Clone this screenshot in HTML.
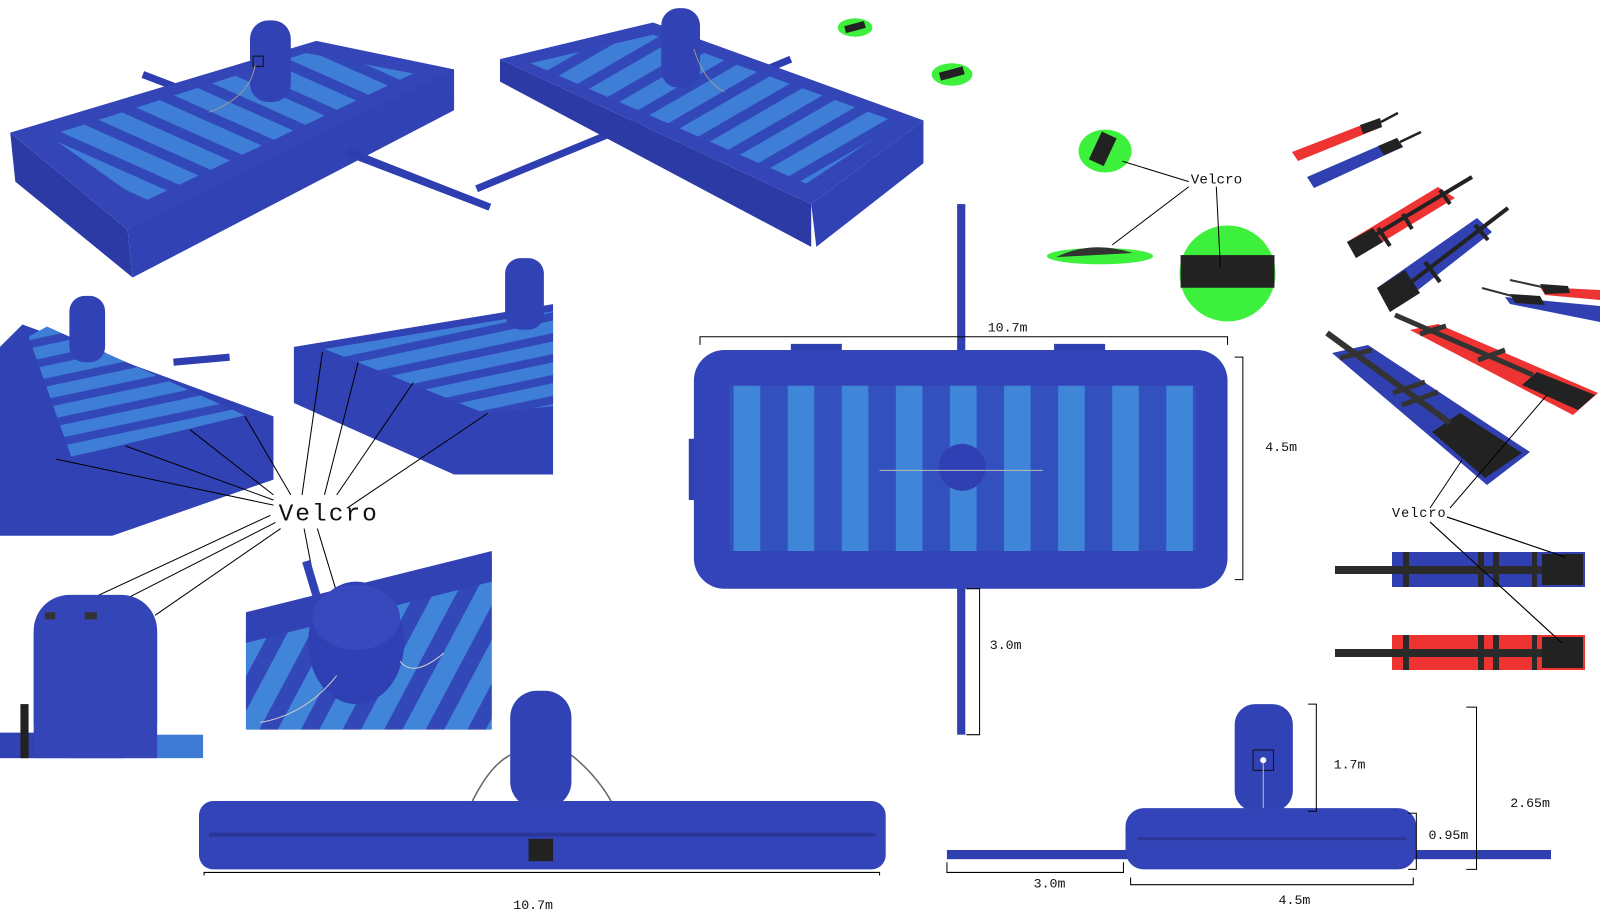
<!DOCTYPE html>
<html><head><meta charset="utf-8"><style>
html,body{margin:0;padding:0;background:#fff;}
svg{display:block;}
text{font-family:"Liberation Mono","DejaVu Sans Mono",monospace;fill:#111;}
</style></head><body>
<svg width="1600" height="922" viewBox="0 0 1600 922" xmlns="http://www.w3.org/2000/svg">
<defs>
<pattern id="st1" width="26" height="26" patternUnits="userSpaceOnUse" patternTransform="rotate(24)">
<rect width="26" height="26" fill="#3348b8"/><rect width="26" height="16" fill="#3f7ed6"/></pattern>
<pattern id="st2" width="26" height="26" patternUnits="userSpaceOnUse" patternTransform="rotate(-30)">
<rect width="26" height="26" fill="#3348b8"/><rect width="26" height="16" fill="#3f7ed6"/></pattern>
<pattern id="st3" width="20" height="20" patternUnits="userSpaceOnUse" patternTransform="rotate(-12)">
<rect width="20" height="20" fill="#3348b8"/><rect width="20" height="12" fill="#3f7ed6"/></pattern>
<pattern id="st4" width="36" height="36" patternUnits="userSpaceOnUse" patternTransform="rotate(-62)">
<rect width="36" height="36" fill="#3348b8"/><rect width="36" height="20" fill="#4185d8"/></pattern>
<pattern id="st5" width="53" height="10" patternUnits="userSpaceOnUse" x="715">
<rect width="53" height="10" fill="#3350bf"/><rect x="4" width="26" height="10" fill="#3f86d8"/></pattern>
</defs>

<g transform="scale(1.0204)">
<!-- TOP LEFT MAT -->
<line x1="140" y1="73" x2="480" y2="203" stroke="#2e3db0" stroke-width="7"/>
<polygon points="10,130 125,225 130,272 15,178" fill="#2c3aa6"/>
<polygon points="125,225 425,68 445,68 445,108 130,272" fill="#3142b4"/>
<polygon points="10,130 310,40 445,68 125,225" fill="#3445b8"/>
<polygon points="48,133 300,52 405,72 140,198" fill="url(#st1)"/>
<line x1="340" y1="148" x2="480" y2="203" stroke="#2e3db0" stroke-width="7"/>
<rect x="245" y="20" width="40" height="80" rx="18" fill="#3142b4"/>
<rect x="248" y="55" width="10" height="10" fill="none" stroke="#111"/>
<path d="M250 64 Q245 95 205 110" stroke="#999" fill="none"/>

<!-- TOP MIDDLE MAT -->
<line x1="467" y1="185" x2="775" y2="58" stroke="#2e3db0" stroke-width="7"/>
<polygon points="490,58 795,200 795,242 490,80" fill="#2c3aa6"/>
<polygon points="795,200 905,118 905,160 800,242" fill="#3142b4"/>
<polygon points="490,58 640,22 905,118 795,200" fill="#3445b8"/>
<polygon points="520,62 640,34 880,120 790,180" fill="url(#st2)"/>
<rect x="648" y="8" width="38" height="78" rx="17" fill="#3142b4"/>
<path d="M680 48 Q690 80 710 90" stroke="#999" fill="none"/>

<!-- GREEN discs -->
<ellipse cx="838" cy="27" rx="17" ry="9" fill="#3cf03c"/><rect x="828" y="23" width="20" height="7" fill="#222" transform="rotate(-15 838 27)"/>
<ellipse cx="933" cy="73" rx="20" ry="11" fill="#3cf03c"/><rect x="921" y="68" width="24" height="8" fill="#222" transform="rotate(-15 933 73)"/>
<ellipse cx="1083" cy="148" rx="26" ry="21" fill="#3cf03c"/><rect x="1072" y="132" width="16" height="30" fill="#222" transform="rotate(25 1083 148)"/>
<ellipse cx="1078" cy="251" rx="52" ry="8" fill="#3cf03c"/><path d="M1035 252 Q1070 235 1110 248 Z" fill="#333"/>
<circle cx="1203" cy="268" r="47" fill="#3cf03c"/><rect x="1157" y="250" width="92" height="32" fill="#222"/>
<text x="1167" y="180" font-size="14">Velcro</text>
<polyline points="1100,158 1165,178" stroke="#000" fill="none"/>
<line x1="1165" y1="183" x2="1090" y2="240" stroke="#000"/>
<line x1="1192" y1="183" x2="1196" y2="262" stroke="#000"/>

<!-- MID LEFT CROP -->
<line x1="0" y1="420" x2="20" y2="410" stroke="#2e3db0" stroke-width="7"/>
<line x1="170" y1="355" x2="225" y2="350" stroke="#2e3db0" stroke-width="7"/>
<polygon points="0,340 22,318 268,408 268,470 110,525 0,525" fill="#3142b4"/>
<polygon points="28,330 46,320 240,407 70,448" fill="url(#st3)"/>
<rect x="68" y="290" width="35" height="65" rx="15" fill="#3142b4"/>
<!-- MID RIGHT CROP -->
<polygon points="288,340 542,298 542,465 445,465 288,395" fill="#3142b4"/>
<polygon points="318,342 542,305 542,398 475,405" fill="url(#st3)"/>
<rect x="495" y="253" width="38" height="70" rx="15" fill="#3142b4"/>
<text x="273" y="510" font-size="24" letter-spacing="2">Velcro</text>
<g stroke="#000" stroke-width="1">
<line x1="55" y1="450" x2="268" y2="495"/><line x1="123" y1="437" x2="268" y2="490"/><line x1="186" y1="421" x2="268" y2="485"/><line x1="240" y1="408" x2="285" y2="485"/>
<line x1="316" y1="345" x2="296" y2="485"/><line x1="351" y1="355" x2="318" y2="485"/><line x1="405" y1="375" x2="330" y2="485"/><line x1="478" y1="405" x2="340" y2="498"/>
<line x1="50" y1="605" x2="265" y2="505"/><line x1="88" y1="605" x2="270" y2="512"/><line x1="152" y1="603" x2="275" y2="518"/>
<line x1="298" y1="518" x2="320" y2="632"/><line x1="311" y1="518" x2="345" y2="630"/>
</g>
<!-- BOTTOM LEFT CROP -->
<rect x="0" y="718" width="120" height="25" fill="#3142b4"/><rect x="120" y="720" width="79" height="23" fill="#3d7bd4"/>
<rect x="33" y="583" width="121" height="160" rx="35" fill="#3445b8"/>
<rect x="33" y="620" width="121" height="123" fill="#3445b8"/>
<rect x="44" y="600" width="10" height="7" fill="#333"/><rect x="83" y="600" width="12" height="7" fill="#333"/>
<rect x="20" y="690" width="8" height="53" fill="#222"/>
<!-- MID CROP 2 -->
<polygon points="241,620 482,547 482,715 241,715" fill="url(#st4)"/>
<polygon points="241,600 482,540 482,570 241,630" fill="#3142b4"/>
<line x1="300" y1="550" x2="318" y2="610" stroke="#3142b4" stroke-width="8"/>
<ellipse cx="349" cy="630" rx="47" ry="60" fill="#2f40b4"/><ellipse cx="349" cy="605" rx="43" ry="32" fill="#3749bc"/>
<path d="M392 648 Q405 665 435 640" stroke="#ccc" fill="none"/><path d="M330 662 Q300 700 255 708" stroke="#ccc" fill="none"/>

<!-- CENTER TOP VIEW -->
<rect x="938" y="200" width="8" height="520" fill="#2f3fb0"/>
<rect x="775" y="337" width="50" height="8" fill="#2f3fb0"/><rect x="1033" y="337" width="50" height="8" fill="#2f3fb0"/>
<rect x="675" y="430" width="10" height="60" fill="#2f3fb0"/>
<rect x="680" y="343" width="523" height="234" rx="30" fill="#3244b8"/>
<rect x="715" y="378" width="457" height="162" fill="url(#st5)"/>
<circle cx="943" cy="458" r="23" fill="#2f40b4"/>
<line x1="862" y1="461" x2="1022" y2="461" stroke="#bbb"/>
<g stroke="#000" fill="none" stroke-width="1">
<polyline points="686,338 686,330 1203,330 1203,338"/>
<polyline points="1210,350 1218,350 1218,568 1210,568"/>
<polyline points="947,577 960,577 960,720 947,720"/>
</g>
<text x="968" y="325" font-size="13">10.7m</text>
<text x="1240" y="442" font-size="13">4.5m</text>
<text x="970" y="636" font-size="13">3.0m</text>

<!-- BOTTOM SIDE VIEW -->
<path d="M462 787 Q480 750 500 740 M560 740 Q585 760 600 787" stroke="#666" fill="none" stroke-width="1.5"/>
<rect x="500" y="677" width="60" height="115" rx="26" fill="#3142b4"/>
<rect x="195" y="785" width="673" height="67" rx="14" fill="#3344b8"/>
<line x1="205" y1="818" x2="858" y2="818" stroke="#2a3798" stroke-width="4"/>
<rect x="518" y="822" width="24" height="22" fill="#222"/>
<polyline points="200,858 200,855 862,855 862,858" stroke="#000" fill="none"/>
<text x="503" y="891" font-size="13">10.7m</text>

<!-- BOTTOM RIGHT SIDE VIEW -->
<rect x="928" y="833" width="592" height="9" fill="#2f3fb0"/>
<rect x="1210" y="690" width="57" height="105" rx="20" fill="#3142b4"/>
<rect x="1228" y="735" width="20" height="20" fill="none" stroke="#111"/><circle cx="1238" cy="745" r="3" fill="#fff"/>
<line x1="1238" y1="748" x2="1238" y2="792" stroke="#bbb"/>
<rect x="1103" y="792" width="285" height="60" rx="18" fill="#3344b8"/>
<line x1="1115" y1="822" x2="1378" y2="822" stroke="#2a3798" stroke-width="3"/>
<g stroke="#000" fill="none">
<polyline points="1282,690 1290,690 1290,795 1282,795"/>
<polyline points="1437,693 1447,693 1447,852 1437,852"/>
<polyline points="1380,797 1388,797 1388,852 1380,852"/>
<polyline points="928,845 928,855 1101,855 1101,845"/>
<polyline points="1108,860 1108,867 1385,867 1385,860"/>
</g>
<text x="1307" y="753" font-size="13">1.7m</text>
<text x="1480" y="791" font-size="13">2.65m</text>
<text x="1400" y="822" font-size="13">0.95m</text>
<text x="1013" y="870" font-size="13">3.0m</text>
<text x="1253" y="886" font-size="13">4.5m</text>
</g>

<!-- STRAPS (real coords) -->
<polygon points="1292,152 1380,118 1382,127 1298,161" fill="#ee3333"/><polygon points="1360,125 1380,118 1382,127 1363,134" fill="#222"/><line x1="1381" y1="122" x2="1398" y2="113" stroke="#222" stroke-width="2.5"/>
<polygon points="1307,177 1397,138 1403,147 1314,188" fill="#3040b0"/><polygon points="1378,146 1397,138 1403,147 1384,155" fill="#222"/><line x1="1400" y1="142" x2="1421" y2="132" stroke="#222" stroke-width="2.5"/>
<polygon points="1347,242 1438,187 1455,198 1356,258" fill="#ee3333"/><polygon points="1347,242 1373,228 1383,242 1356,258" fill="#222"/>
<line x1="1370" y1="238" x2="1472" y2="177" stroke="#222" stroke-width="4"/><line x1="1378" y1="228" x2="1390" y2="246" stroke="#222" stroke-width="4"/><line x1="1403" y1="214" x2="1412" y2="229" stroke="#222" stroke-width="4"/><line x1="1440" y1="190" x2="1450" y2="204" stroke="#222" stroke-width="4"/>
<polygon points="1377,288 1477,218 1492,232 1390,312" fill="#3040b0"/><polygon points="1377,288 1405,270 1420,293 1390,312" fill="#222"/>
<line x1="1410" y1="283" x2="1508" y2="208" stroke="#222" stroke-width="4"/><line x1="1425" y1="262" x2="1440" y2="282" stroke="#222" stroke-width="4"/><line x1="1475" y1="225" x2="1488" y2="240" stroke="#222" stroke-width="4"/>
<!-- far right small -->
<polygon points="1505,297 1600,306 1600,322 1510,304" fill="#3040b0"/><polygon points="1510,294 1540,296 1545,305 1515,303" fill="#222"/><line x1="1482" y1="288" x2="1512" y2="296" stroke="#333" stroke-width="2"/>
<polygon points="1540,287 1600,290 1600,300 1545,295" fill="#ee3333"/><polygon points="1540,284 1568,286 1570,293 1545,294" fill="#222"/><line x1="1510" y1="280" x2="1542" y2="287" stroke="#333" stroke-width="2"/>
<!-- big red -->
<polygon points="1410,330 1438,324 1598,393 1573,415" fill="#ee3333"/>
<polygon points="1522,385 1537,372 1595,395 1578,410" fill="#222"/>
<line x1="1395" y1="315" x2="1533" y2="375" stroke="#333" stroke-width="5"/>
<line x1="1420" y1="334" x2="1446" y2="326" stroke="#333" stroke-width="5"/>
<line x1="1478" y1="360" x2="1505" y2="350" stroke="#333" stroke-width="5"/>
<!-- big blue -->
<polygon points="1332,353 1368,345 1530,452 1487,485" fill="#3040b0"/>
<polygon points="1432,432 1460,413 1522,453 1485,478" fill="#222"/>
<line x1="1327" y1="333" x2="1450" y2="423" stroke="#333" stroke-width="6"/>
<line x1="1340" y1="358" x2="1372" y2="350" stroke="#333" stroke-width="5"/>
<line x1="1393" y1="393" x2="1425" y2="382" stroke="#333" stroke-width="5"/>
<line x1="1402" y1="405" x2="1438" y2="392" stroke="#333" stroke-width="5"/>
<!-- right Velcro -->
<text x="1392" y="517" font-size="13.5" letter-spacing="1">Velcro</text>
<g stroke="#000" stroke-width="1">
<line x1="1430" y1="508" x2="1462" y2="460"/>
<line x1="1450" y1="508" x2="1547" y2="395"/>
<line x1="1447" y1="517" x2="1565" y2="557"/>
<line x1="1430" y1="522" x2="1562" y2="643"/>
</g>
<rect x="1335" y="566" width="215" height="8" fill="#2a2a2a"/>
<rect x="1392" y="552" width="193" height="35" fill="#3040b0"/>
<rect x="1335" y="566" width="207" height="8" fill="#2a2a2a"/>
<rect x="1403" y="552" width="6" height="35" fill="#2a2a2a"/><rect x="1478" y="552" width="6" height="35" fill="#2a2a2a"/><rect x="1493" y="552" width="6" height="35" fill="#2a2a2a"/><rect x="1532" y="552" width="5" height="35" fill="#2a2a2a"/>
<rect x="1542" y="554" width="41" height="31" fill="#222"/>
<rect x="1392" y="635" width="193" height="35" fill="#ee3333"/>
<rect x="1335" y="649" width="207" height="8" fill="#2a2a2a"/>
<rect x="1403" y="635" width="6" height="35" fill="#2a2a2a"/><rect x="1478" y="635" width="6" height="35" fill="#2a2a2a"/><rect x="1493" y="635" width="6" height="35" fill="#2a2a2a"/><rect x="1532" y="635" width="5" height="35" fill="#2a2a2a"/>
<rect x="1542" y="637" width="41" height="31" fill="#222"/>
<line x1="1447" y1="517" x2="1565" y2="557" stroke="#000"/>
<line x1="1430" y1="522" x2="1562" y2="643" stroke="#000"/>
</svg>
</body></html>
